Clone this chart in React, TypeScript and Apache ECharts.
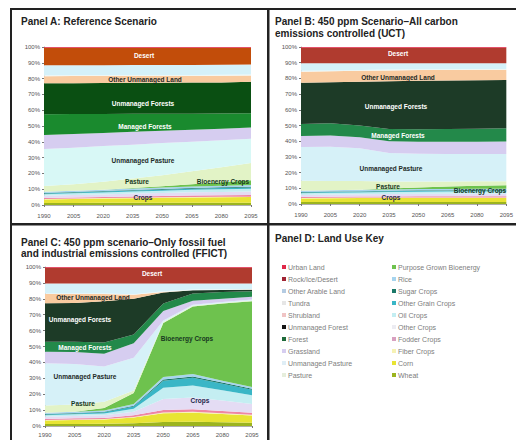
import React, { useEffect, useRef } from "react";
import * as echarts from "echarts";

const YEARS = ["1990", "2005", "2020", "2035", "2050", "2065", "2080", "2095"];

const SERIES_NAMES = [
  "Wheat", "Corn", "Fiber Crops", "Fodder Crops", "Other Crops", "Oil Crops",
  "Other Grain Crops", "Sugar Crops", "Rice", "Purpose Grown Bioenergy", "Pasture",
  "Unmanaged Pasture", "Grassland", "Forest", "Unmanaged Forest", "Shrubland",
  "Tundra", "Other Arable Land", "Rock/Ice/Desert", "Urban Land",
];

// Panel A: Reference scenario (% of land)
const A_WHEAT = [1.2, 1.3, 1.4, 1.4, 1.5, 1.5, 1.5, 1.5];
const A_CORN = [2.3, 2.5, 2.7, 2.9, 3.1, 3.3, 3.4, 3.5];
const A_FIBER = [0.3, 0.3, 0.3, 0.3, 0.3, 0.3, 0.3, 0.3];
const A_FODDER = [0.6, 0.7, 0.7, 0.8, 0.8, 0.9, 0.9, 1.0];
const A_OTHER_CROPS = [1.4, 1.5, 1.6, 1.8, 1.9, 2.0, 2.1, 2.2];
const A_OIL = [1.0, 1.1, 1.2, 1.3, 1.4, 1.6, 1.7, 1.8];
const A_OTHER_GRAIN = [0.5, 0.5, 0.6, 0.6, 0.7, 0.7, 0.8, 0.8];
const A_SUGAR = [0.3, 0.3, 0.3, 0.4, 0.4, 0.4, 0.5, 0.5];
const A_RICE = [0.8, 0.8, 0.9, 0.9, 0.9, 1.0, 1.0, 1.0];
const A_BIO = [0, 0, 0, 0.3, 0.8, 1.5, 2.2, 3.0];
const A_PASTURE = [3.6, 4.2, 5.0, 6.0, 7.0, 8.2, 9.5, 11.0];
const A_UNM_PASTURE = [23.4, 23.1, 22.6, 21.5, 20.4, 18.7, 17.1, 15.4];
const A_GRASS = [8.9, 8.7, 8.3, 8.1, 7.8, 7.5, 7.3, 7.0];
const A_FOREST = [13.2, 12.6, 12.0, 11.4, 10.8, 10.2, 9.6, 9.0];
const A_UNM_FOREST = [19.5, 19.5, 19.6, 19.6, 19.6, 19.7, 19.7, 20.0];
const A_SHRUB = [4.5, 4.5, 4.4, 4.4, 4.3, 4.2, 4.2, 4.0];
const A_TUNDRA = [0.6, 0.6, 0.6, 0.6, 0.6, 0.6, 0.6, 0.6];
const A_ARABLE = [6.3, 6.3, 6.3, 6.3, 6.3, 6.3, 6.3, 6.3];
const A_DESERT = [11.2, 11.1, 11.1, 11.0, 11.0, 11.0, 10.9, 10.7];
const A_URBAN = [0.4, 0.4, 0.4, 0.4, 0.4, 0.4, 0.4, 0.4];

// Panel B: 450 ppm, all carbon controlled (UCT)
const B_WHEAT = [1.2, 1.3, 1.3, 1.3, 1.3, 1.3, 1.3, 1.3];
const B_CORN = [2.3, 2.4, 2.5, 2.5, 2.6, 2.6, 2.6, 2.6];
const B_FIBER = [0.3, 0.3, 0.3, 0.3, 0.3, 0.3, 0.3, 0.3];
const B_FODDER = [0.6, 0.6, 0.6, 0.7, 0.7, 0.7, 0.7, 0.7];
const B_OTHER_CROPS = [1.4, 1.5, 1.5, 1.6, 1.6, 1.7, 1.7, 1.7];
const B_OIL = [1.0, 1.0, 1.1, 1.2, 1.3, 1.3, 1.4, 1.4];
const B_OTHER_GRAIN = [0.5, 0.5, 0.6, 0.6, 0.6, 0.6, 0.6, 0.6];
const B_SUGAR = [0.3, 0.3, 0.3, 0.3, 0.3, 0.3, 0.3, 0.3];
const B_RICE = [0.8, 0.8, 0.8, 0.8, 0.8, 0.8, 0.8, 0.8];
const B_BIO = [0, 0, 0, 0.5, 1.0, 1.5, 2.0, 2.3];
const B_PASTURE = [6.4, 6.0, 5.6, 4.5, 3.8, 3.3, 2.8, 2.5];
const B_UNM_PASTURE = [21.5, 21.8, 20.9, 18.2, 17.7, 17.4, 17.3, 17.3];
const B_GRASS = [7.0, 7.1, 7.0, 7.5, 7.6, 7.8, 7.9, 8.0];
const B_FOREST = [7.7, 7.9, 7.5, 7.8, 8.0, 8.2, 8.3, 8.5];
const B_UNM_FOREST = [26.3, 26.0, 27.8, 30.4, 30.9, 30.9, 30.9, 30.7];
const B_SHRUB = [7.0, 7.0, 7.0, 6.9, 6.8, 6.7, 6.6, 6.5];
const B_TUNDRA = [0.5, 0.5, 0.5, 0.5, 0.5, 0.5, 0.5, 0.5];
const B_ARABLE = [4.8, 4.6, 4.3, 4.0, 3.8, 3.7, 3.6, 3.6];
const B_DESERT = [10.0, 10.0, 10.0, 10.0, 10.0, 10.0, 10.0, 10.0];
const B_URBAN = [0.4, 0.4, 0.4, 0.4, 0.4, 0.4, 0.4, 0.4];

// Panel C: 450 ppm, only fossil fuel & industrial controlled (FFICT)
const C_WHEAT = [1.2, 1.3, 1.4, 1.8, 2.5, 2.6, 2.3, 2.0];
const C_CORN = [2.3, 2.5, 2.7, 3.5, 5.5, 5.8, 5.2, 4.6];
const C_FIBER = [0.3, 0.3, 0.3, 0.4, 0.5, 0.5, 0.5, 0.4];
const C_FODDER = [0.6, 0.7, 0.7, 1.0, 1.5, 1.6, 1.5, 1.4];
const C_OTHER_CROPS = [1.4, 1.5, 1.6, 2.3, 7.0, 7.5, 6.5, 5.5];
const C_OIL = [1.0, 1.1, 1.2, 1.8, 7.0, 7.5, 6.5, 5.4];
const C_OTHER_GRAIN = [0.5, 0.5, 0.7, 1.5, 4.5, 4.8, 4.0, 3.5];
const C_SUGAR = [0.3, 0.3, 0.3, 0.5, 0.8, 0.9, 0.8, 0.7];
const C_RICE = [0.8, 0.8, 0.9, 1.0, 1.5, 1.5, 1.2, 1.0];
const C_BIO = [0, 0, 1.5, 7.0, 34.0, 42.5, 48.5, 54.0];
const C_PASTURE = [4.5, 4.5, 4.0, 1.5, 0.6, 0.4, 0.4, 0.4];
const C_UNM_PASTURE = [26.5, 25.5, 22.2, 20.7, 1.0, 0.6, 0.6, 0.6];
const C_GRASS = [7.3, 7.5, 8.0, 9.0, 6.0, 2.5, 2.0, 1.8];
const C_FOREST = [6.3, 6.5, 7.0, 5.5, 4.6, 4.6, 4.3, 3.4];
const C_UNM_FOREST = [24.2, 24.4, 26.0, 22.5, 7.0, 2.0, 1.2, 1.0];
const C_SHRUB = [5.8, 5.6, 4.5, 2.5, 0.3, 0.1, 0.1, 0.1];
const C_TUNDRA = [0.4, 0.4, 0.4, 0.4, 0.4, 0.4, 0.4, 0.4];
const C_ARABLE = [6.2, 6.2, 6.2, 6.7, 4.9, 3.8, 3.6, 3.4];
const C_DESERT = [10.0, 10.0, 10.0, 10.0, 10.0, 10.0, 10.0, 10.0];
const C_URBAN = [0.4, 0.4, 0.4, 0.4, 0.4, 0.4, 0.4, 0.4];

const LEGEND_LEFT = [
  "Urban Land", "Rock/Ice/Desert", "Other Arable Land", "Tundra", "Shrubland",
  "Unmanaged Forest", "Forest", "Grassland", "Unmanaged Pasture", "Pasture",
];
const LEGEND_RIGHT = [
  "Purpose Grown Bioenergy", "Rice", "Sugar Crops", "Other Grain Crops", "Oil Crops",
  "Other Crops", "Fodder Crops", "Fiber Crops", "Corn", "Wheat",
];

const COLORS: Record<string, string> = {
  "Wheat": "#9cb41e",
  "Corn": "#e8e433",
  "Fiber Crops": "#f6f2b4",
  "Fodder Crops": "#ee86a4",
  "Other Crops": "#e4dcf4",
  "Oil Crops": "#c4eef2",
  "Other Grain Crops": "#3ab6c6",
  "Sugar Crops": "#1b7868",
  "Rice": "#a6d4ee",
  "Purpose Grown Bioenergy": "#6ec24e",
  "Pasture": "#e2f3c6",
  "Unmanaged Pasture": "#d6f1f8",
  "Grassland": "#d6cdf0",
  "Forest": "#23894a",
  "Unmanaged Forest": "#1d3b27",
  "Shrubland": "#f9cba0",
  "Tundra": "#eef7f5",
  "Other Arable Land": "#d5f1f9",
  "Rock/Ice/Desert": "#b03b2f",
  "Urban Land": "#e0284a",
};
const COLORS_A: Record<string, string> = {
  ...COLORS,
  "Forest": "#1a8a2e",
  "Unmanaged Forest": "#0a4f12",
  "Rock/Ice/Desert": "#c24d0a",
  "Unmanaged Pasture": "#d8f8f6",
};
const LEGEND_MARKERS: Record<string, string> = {
  ...COLORS,
  "Rock/Ice/Desert": "#a02434",
  "Other Arable Land": "#b4cbe2",
  "Tundra": "#e6e6e6",
  "Shrubland": "#f0c4c4",
  "Unmanaged Forest": "#151515",
  "Forest": "#1e6a3a",
  "Unmanaged Pasture": "#dfeef6",
  "Pasture": "#e6eedc",
  "Other Crops": "#ececf2",
  "Fodder Crops": "#d8a0c0",
};

const FONT = '"Liberation Sans", Arial, sans-serif';

export default function App() {
  const ref = useRef<HTMLDivElement>(null);

  useEffect(() => {
    if (!ref.current) return;
    const chart = echarts.init(ref.current, null, { renderer: "svg" });

    const panels = [
      { data: [A_WHEAT, A_CORN, A_FIBER, A_FODDER, A_OTHER_CROPS, A_OIL, A_OTHER_GRAIN, A_SUGAR, A_RICE, A_BIO, A_PASTURE, A_UNM_PASTURE, A_GRASS, A_FOREST, A_UNM_FOREST, A_SHRUB, A_TUNDRA, A_ARABLE, A_DESERT, A_URBAN], colors: COLORS_A },
      { data: [B_WHEAT, B_CORN, B_FIBER, B_FODDER, B_OTHER_CROPS, B_OIL, B_OTHER_GRAIN, B_SUGAR, B_RICE, B_BIO, B_PASTURE, B_UNM_PASTURE, B_GRASS, B_FOREST, B_UNM_FOREST, B_SHRUB, B_TUNDRA, B_ARABLE, B_DESERT, B_URBAN], colors: COLORS },
      { data: [C_WHEAT, C_CORN, C_FIBER, C_FODDER, C_OTHER_CROPS, C_OIL, C_OTHER_GRAIN, C_SUGAR, C_RICE, C_BIO, C_PASTURE, C_UNM_PASTURE, C_GRASS, C_FOREST, C_UNM_FOREST, C_SHRUB, C_TUNDRA, C_ARABLE, C_DESERT, C_URBAN], colors: COLORS },
    ];

    const grids = [
      { left: 44, top: 47, width: 207, height: 158 },
      { left: 301, top: 47, width: 207, height: 157 },
      { left: 45, top: 267, width: 207, height: 159 },
    ];

    const series: any[] = [];
    // order so that legend picks B/C palette first
    [1, 2, 0].forEach((p) => {
      SERIES_NAMES.forEach((name, i) => {
        const c = panels[p].colors[name];
        series.push({
          name,
          type: "line",
          xAxisIndex: p,
          yAxisIndex: p,
          stack: "panel" + p,
          data: panels[p].data[i],
          symbol: "none",
          lineStyle: { width: 0, color: c },
          itemStyle: { color: c },
          areaStyle: { color: c, opacity: 1 },
          silent: true,
          z: 2,
        });
      });
    });

    const xAxes = grids.map((_, i) => ({
      gridIndex: i,
      type: "category",
      data: YEARS,
      boundaryGap: false,
      axisLine: { lineStyle: { color: "#9a9a9a", width: 0.8 } },
      axisTick: { show: true, length: 2, lineStyle: { color: "#777" } },
      axisLabel: { fontSize: 6, color: "#555", interval: 0, margin: i === 2 ? 6 : 8, fontFamily: FONT },
      splitLine: { show: false },
      z: 5,
    }));
    const yAxes = grids.map((_, i) => ({
      gridIndex: i,
      type: "value",
      min: 0,
      max: 100,
      interval: 10,
      axisLine: { show: true, lineStyle: { color: "#9a9a9a", width: 0.8 } },
      axisTick: { show: true, length: 2, lineStyle: { color: "#777" } },
      axisLabel: { fontSize: 6, color: "#555", formatter: "{value}%", margin: 4, fontFamily: FONT },
      splitLine: { show: false },
    }));

    const label = (text: string, x: number, y: number, fill: string, size = 6.5) => ({
      type: "text",
      x,
      y,
      z: 10,
      silent: true,
      style: { text, fill, font: `bold ${size}px ${FONT}`, align: "center", verticalAlign: "middle" },
    });
    const title = (text: string, x: number, y: number) => ({
      type: "text",
      x,
      y,
      z: 10,
      silent: true,
      style: { text, fill: "#222", font: `bold 10px ${FONT}`, align: "left", verticalAlign: "middle" },
    });
    const bar = (x: number, y: number, w: number, h: number) => ({
      type: "rect",
      z: 20,
      silent: true,
      shape: { x, y, width: w, height: h },
      style: { fill: "#222" },
    });

    const dark = "#1e2a26";
    const graphics = [
      bar(10, 8, 506, 2),
      bar(10, 8, 2, 432),
      bar(267, 8, 2.5, 432),
      bar(10, 223, 506, 2.5),
      title("Panel A: Reference Scenario", 21, 21),
      title("Panel B: 450 ppm Scenario\u2013All carbon", 275, 21),
      title("emissions controlled (UCT)", 275, 33),
      title("Panel C: 450 ppm scenario\u2013Only fossil fuel", 21, 242),
      title("and industrial emissions controlled (FFICT)", 21, 253),
      title("Panel D: Land Use Key", 275, 238),
      // Panel A labels
      label("Desert", 144, 55, "#fff"),
      label("Other Unmanaged Land", 145, 79, dark),
      label("Unmanaged Forests", 143, 103, "#fff"),
      label("Managed Forests", 145, 126, "#fff"),
      label("Unmanaged Pasture", 143, 160, dark),
      label("Pasture", 137, 181, "#17391f"),
      label("Bioenergy Crops", 223, 181, "#17391f"),
      label("Crops", 143, 197, "#1c2a4a"),
      // Panel B labels
      label("Desert", 398, 53, "#fff"),
      label("Other Unmanaged Land", 398, 77, dark),
      label("Unmanaged Forests", 396, 106, "#fff"),
      label("Managed Forests", 398, 135, "#fff"),
      label("Unmanaged Pasture", 391, 168, dark),
      label("Pasture", 388, 186, "#17391f"),
      label("Bioenergy Crops", 480, 190, "#17391f"),
      label("Crops", 391, 197, "#1c2a4a"),
      // Panel C labels
      label("Desert", 152, 273, "#fff"),
      label("Other Unmanaged Land", 93, 297, dark),
      label("Unmanaged Forests", 80, 319, "#fff"),
      label("Managed Forests", 85, 347, "#fff"),
      label("Unmanaged Pasture", 85, 376, dark),
      label("Pasture", 83, 403, "#17391f"),
      label("Bioenergy Crops", 187, 338, "#17391f"),
      label("Crops", 200, 400, "#1c2a4a"),
    ];

    const legendCommon = {
      orient: "vertical",
      top: 263,
      padding: 0,
      itemWidth: 4,
      itemHeight: 4,
      itemGap: 4,
      icon: "rect",
      selectedMode: false,
      textStyle: { fontSize: 7, color: "#7d7d7d", lineHeight: 8, fontFamily: FONT, padding: [0, 0, 0, -3] },
    };

    chart.setOption({
      animation: false,
      backgroundColor: "#fff",
      textStyle: { fontFamily: FONT },
      grid: grids,
      xAxis: xAxes,
      yAxis: yAxes,
      series,
      legend: [
        { ...legendCommon, left: 282, data: LEGEND_LEFT.map((n) => ({ name: n, itemStyle: { color: LEGEND_MARKERS[n] } })) },
        { ...legendCommon, left: 392, data: LEGEND_RIGHT.map((n) => ({ name: n, itemStyle: { color: LEGEND_MARKERS[n] } })) },
      ],
      graphic: graphics,
    });

    return () => chart.dispose();
  }, []);

  return (
    <div
      ref={ref}
      style={{ position: "fixed", left: 0, top: 0, width: 516, height: 440, background: "#fff" }}
    />
  );
}
